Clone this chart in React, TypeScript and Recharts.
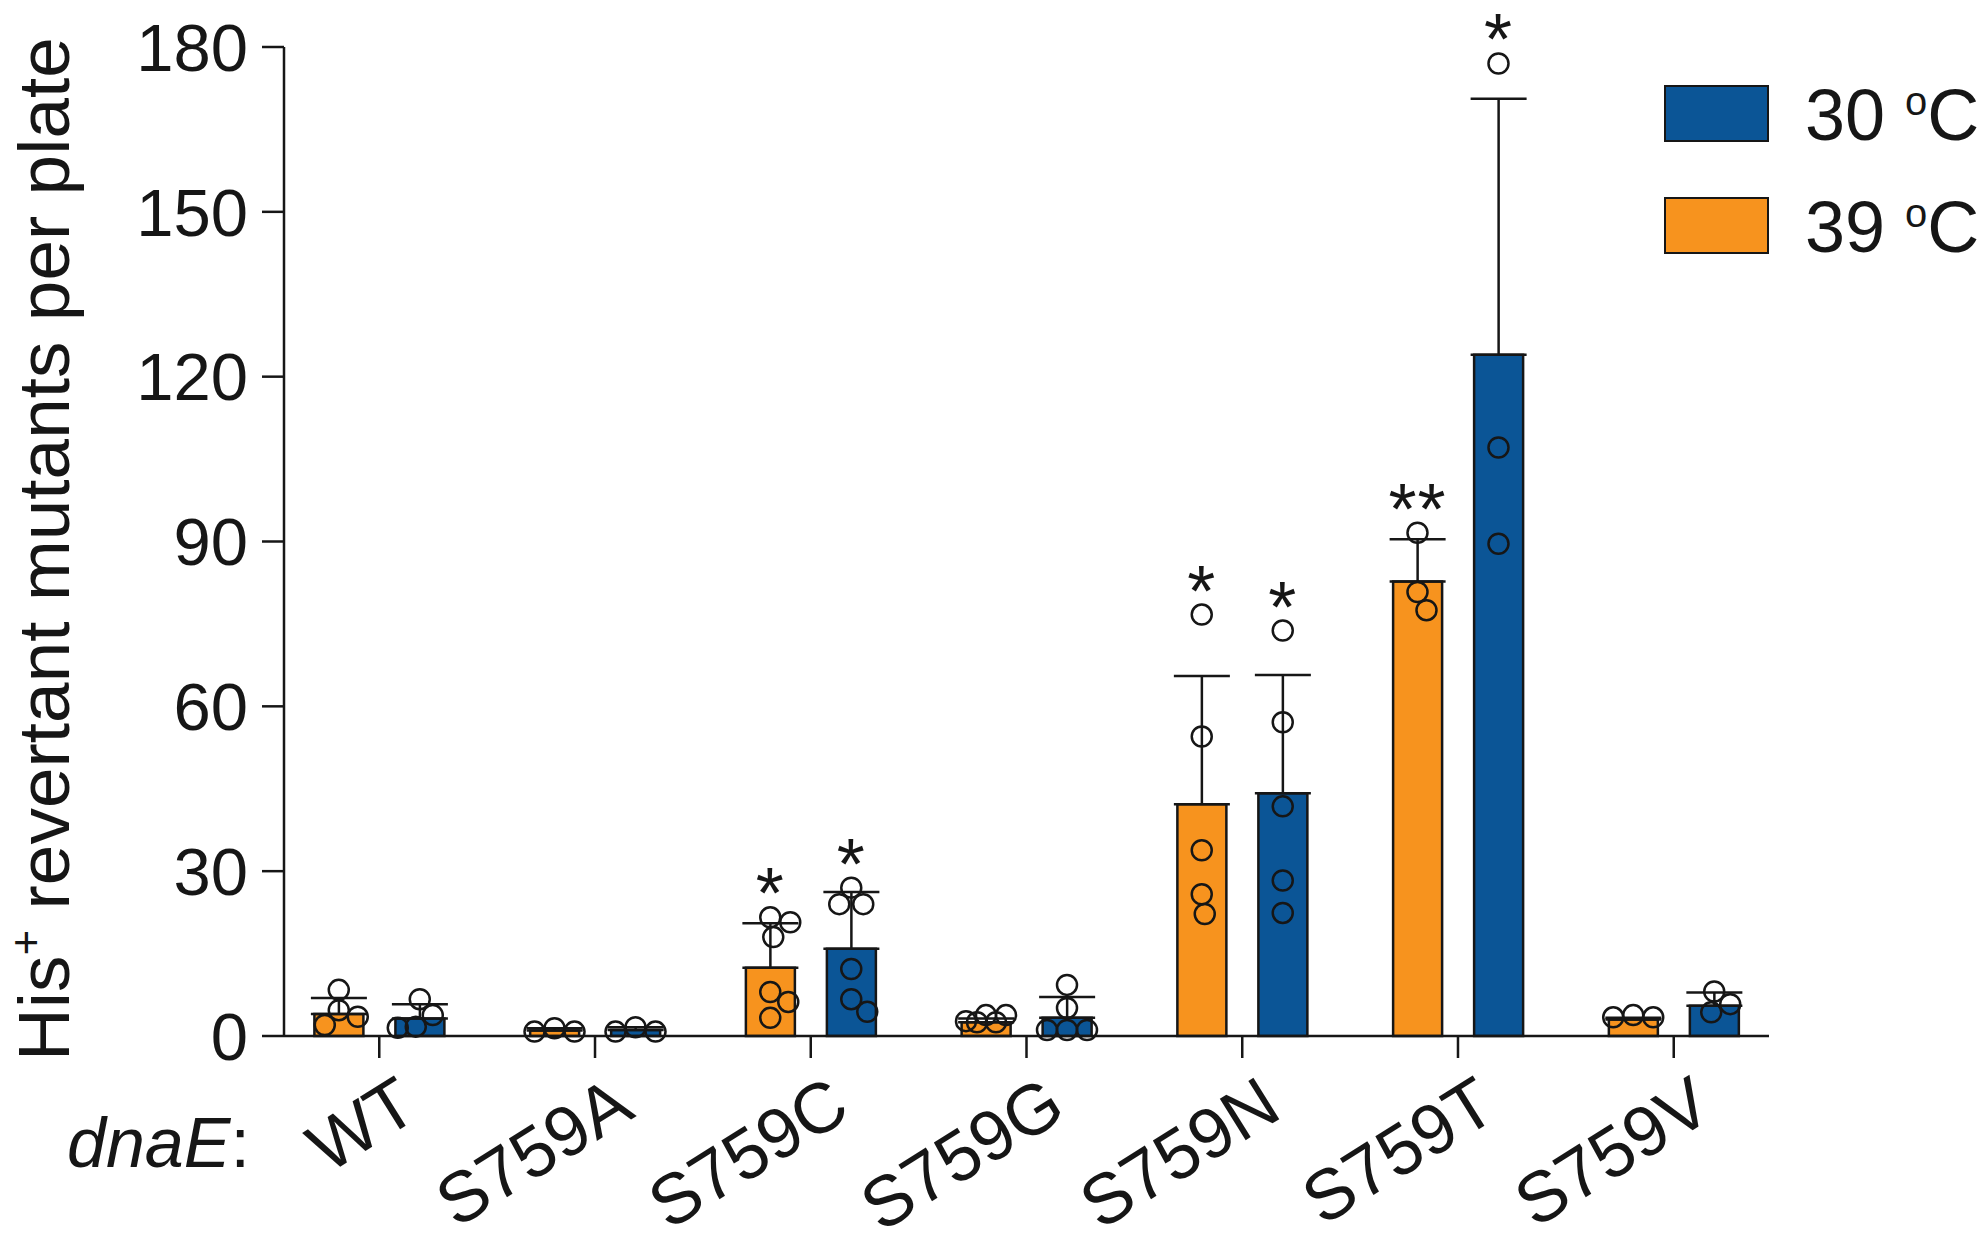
import React from "react";
import { ComposedChart, Bar, Scatter, XAxis, YAxis, ErrorBar } from "recharts";

// strains and readings (His+ revertants per plate)
const strains = ["WT", "S759A", "S759C", "S759G", "S759N", "S759T", "S759V"];
const mean39 = [4.0, 1.0, 12.4, 2.5, 42.2, 82.7, 3.0];
const sd39 = [2.9, 0.4, 8.1, 0.7, 23.3, 7.7, 0.3];
const mean30 = [3.2, 1.1, 15.9, 3.3, 44.2, 124.0, 5.5];
const sd30 = [2.6, 0.5, 10.3, 3.8, 21.5, 46.6, 2.4];
const pts39 = [
  [8.4, 4.7, 3.5, 2.0],
  [1.4, 0.8, 0.8],
  [21.6, 20.7, 18.0, 8.0, 6.2, 3.3],
  [3.8, 3.8, 2.7, 2.5, 2.5],
  [76.7, 54.5, 33.8, 25.8, 22.2],
  [91.6, 80.8, 77.5],
  [3.8, 3.4, 3.4],
];
const pts30 = [
  [6.7, 3.8, 1.7, 1.5],
  [1.6, 0.8, 0.8],
  [27.0, 24.0, 24.0, 12.2, 6.7, 4.4],
  [9.3, 5.1, 1.1, 1.1, 1.1],
  [73.8, 57.1, 41.8, 28.3, 22.4],
  [177.0, 107.1, 89.6],
  [8.1, 5.8, 4.3],
];
const stars39 = ["", "", "*", "", "*", "**", ""];
const stars30 = ["", "", "*", "", "*", "*", ""];
const yTicks = [0, 30, 60, 90, 120, 150, 180];

const FONT = '"Liberation Sans", Arial, Helvetica, sans-serif';
const INK = "#161616";
const BLUE = "#0B5596";
const ORANGE = "#F7931E";

const W = 1988;
const H = 1246;
const PLOT_TOP = 47;
const PLOT_BOTTOM = 1036;
const Y_MAX = 180;
const BAR_SIZE = 49;
const BAR_GAP = 32;
const SHIFT = (BAR_SIZE + BAR_GAP) / 2;
const R = 10;
const MIN_DIST = 20;
const MAX_SPREAD = 22;

const pxPerUnit = (PLOT_BOTTOM - PLOT_TOP) / Y_MAX;

// small beeswarm: spread overlapping dots sideways, but keep them near the bar
function swarm(vals: number[]): number[] {
  const placed: { x: number; y: number }[] = [];
  return vals.map((v) => {
    const y = v * pxPerUnit;
    let best = 0;
    let bestScore = -1;
    for (let k = 0; k <= MAX_SPREAD * 2; k++) {
      const cand = k === 0 ? 0 : (k % 2 ? 1 : -1) * Math.ceil(k / 2);
      const minD = placed.length
        ? Math.min(...placed.map((p) => Math.hypot(p.x - cand, p.y - y)))
        : Infinity;
      if (minD >= MIN_DIST) {
        best = cand;
        break;
      }
      if (minD > bestScore) {
        bestScore = minD;
        best = cand;
      }
    }
    placed.push({ x: best, y });
    return best;
  });
}

const rows = strains.map((name, i) => ({
  name,
  m39: mean39[i],
  e39: [0, sd39[i]],
  m30: mean30[i],
  e30: [0, sd30[i]],
}));

const makeDots = (pts: number[][], side: number) =>
  strains.flatMap((name, i) => {
    const dx = swarm(pts[i]);
    return pts[i].map((v, j) => ({ name, v, shift: side * SHIFT + dx[j] }));
  });

const dots39 = makeDots(pts39, -1);
const dots30 = makeDots(pts30, 1);

const makeStars = (stars: string[], pts: number[][], means: number[], sds: number[], side: number) =>
  strains
    .map((name, i) => ({
      name,
      v: Math.max(...pts[i], means[i] + sds[i]),
      text: stars[i],
      shift: side * SHIFT,
    }))
    .filter((d) => d.text);

const starsData39 = makeStars(stars39, pts39, mean39, sd39, -1);
const starsData30 = makeStars(stars30, pts30, mean30, sd30, 1);

const Dot = (props: any) => {
  const { cx, cy, payload } = props;
  if (cx == null || cy == null) return null;
  return <circle cx={cx + payload.shift} cy={cy} r={R} fill="none" stroke={INK} strokeWidth={2.5} />;
};

const Star = (props: any) => {
  const { cx, cy, payload } = props;
  if (cx == null || cy == null) return null;
  return (
    <text
      x={cx + payload.shift}
      y={cy + 1}
      textAnchor="middle"
      fontSize={72}
      fontFamily={FONT}
      fill={INK}
      letterSpacing={1}
    >
      {payload.text}
    </text>
  );
};

const XTick = (props: any) => {
  const { x, y, payload } = props;
  const ax = x + 42;
  const ay = y + 56;
  return (
    <text
      x={ax}
      y={ay}
      transform={`rotate(-32, ${ax}, ${ay})`}
      textAnchor="end"
      fontSize={71}
      fontFamily={FONT}
      fill={INK}
    >
      {payload.value}
    </text>
  );
};

const DnaELabel = () => (
  <text x={67} y={1167} fontSize={70} fontFamily={FONT} fill={INK}>
    <tspan fontStyle="italic">dnaE</tspan>
    <tspan>:</tspan>
  </text>
);

const YTitle = () => (
  <text
    x={69}
    y={549}
    transform="rotate(-90, 69, 549)"
    textAnchor="middle"
    fontSize={73}
    fontFamily={FONT}
    fill={INK}
  >
    <tspan>His</tspan>
    <tspan fontSize={44} dy={-28}>+</tspan>
    <tspan dy={28}> revertant mutants per plate</tspan>
  </text>
);

const legendItems = [
  { label: "30", color: BLUE },
  { label: "39", color: ORANGE },
];

const LegendBox = () => (
  <div style={{ position: "absolute", left: 1664, top: 85, fontFamily: FONT, color: INK }}>
    {legendItems.map((it, i) => (
      <div
        key={it.label}
        style={{ display: "flex", alignItems: "center", height: 57, marginBottom: i === 0 ? 55 : 0 }}
      >
        <div
          style={{
            width: 105,
            height: 57,
            boxSizing: "border-box",
            background: it.color,
            border: `2.5px solid ${INK}`,
          }}
        />
        <div
          style={{
            marginLeft: 36,
            fontSize: 72,
            lineHeight: "57px",
            whiteSpace: "nowrap",
            position: "relative",
            top: -5,
          }}
        >
          {it.label} <span style={{ fontSize: 40, verticalAlign: 25 }}>o</span>C
        </div>
      </div>
    ))}
  </div>
);

export default function App() {
  return (
    <div style={{ position: "absolute", left: 0, top: 0, width: W, height: H, background: "#fff", overflow: "hidden" }}>
      <ComposedChart
        width={W}
        height={H}
        data={rows}
        margin={{ top: PLOT_TOP, right: 219, bottom: 0, left: 134 }}
        barSize={BAR_SIZE}
        barGap={BAR_GAP}
      >
        <XAxis
          dataKey="name"
          allowDuplicatedCategory={false}
          height={H - PLOT_BOTTOM}
          padding={{ left: -12.6, right: -12.6 }}
          axisLine={{ stroke: INK, strokeWidth: 2.5 }}
          tickLine={{ stroke: INK, strokeWidth: 2.5 }}
          tickSize={22}
          interval={0}
          tick={<XTick />}
          label={<DnaELabel />}
        />
        <YAxis
          type="number"
          domain={[0, Y_MAX]}
          ticks={yTicks}
          width={150}
          axisLine={{ stroke: INK, strokeWidth: 2.5 }}
          tickLine={{ stroke: INK, strokeWidth: 2.5 }}
          tickSize={22}
          tickMargin={14}
          tick={{ fontSize: 67, fontFamily: FONT, fill: INK }}
          label={<YTitle />}
        />
        <Bar dataKey="m39" fill={ORANGE} stroke={INK} strokeWidth={2.5} isAnimationActive={false}>
          <ErrorBar dataKey="e39" width={28} stroke={INK} strokeWidth={2.5} direction="y" />
        </Bar>
        <Bar dataKey="m30" fill={BLUE} stroke={INK} strokeWidth={2.5} isAnimationActive={false}>
          <ErrorBar dataKey="e30" width={28} stroke={INK} strokeWidth={2.5} direction="y" />
        </Bar>
        <Scatter data={dots39} dataKey="v" shape={(p: any) => <Dot {...p} />} isAnimationActive={false} />
        <Scatter data={dots30} dataKey="v" shape={(p: any) => <Dot {...p} />} isAnimationActive={false} />
        <Scatter data={starsData39} dataKey="v" shape={(p: any) => <Star {...p} />} isAnimationActive={false} />
        <Scatter data={starsData30} dataKey="v" shape={(p: any) => <Star {...p} />} isAnimationActive={false} />
      </ComposedChart>
      <LegendBox />
    </div>
  );
}
